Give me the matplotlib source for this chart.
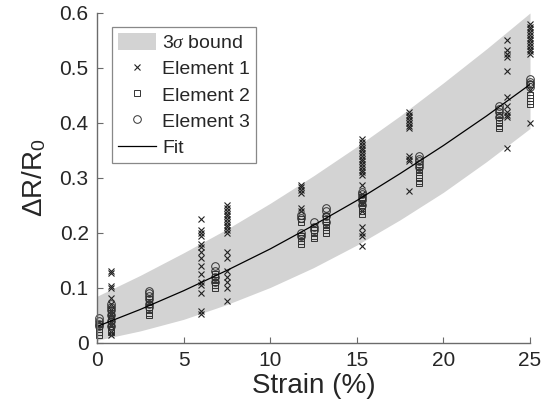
import numpy as np
import matplotlib
matplotlib.use("Agg")
import matplotlib.pyplot as plt

plt.rcParams['font.family'] = ['Liberation Sans', 'DejaVu Sans']
plt.rcParams['mathtext.fontset'] = 'custom'
plt.rcParams['mathtext.rm'] = 'Liberation Sans'
plt.rcParams['mathtext.it'] = 'Liberation Serif:italic'

# fit curve and 3 sigma band
fit_x = [0, 2.5, 5, 7.5, 10, 12.5, 15, 17.5, 20, 22.5, 25]
fit_y = [0.030, 0.061, 0.095, 0.132, 0.171, 0.214, 0.259, 0.308, 0.359, 0.413, 0.470]
band_hi = [0.085, 0.123, 0.164, 0.207, 0.254, 0.304, 0.357, 0.413, 0.473, 0.535, 0.600]
band_lo = [0.005, 0.022, 0.043, 0.070, 0.101, 0.137, 0.178, 0.224, 0.274, 0.330, 0.390]

# measured points, grouped by strain level
e1 = {
    0.8: [0.13, 0.128, 0.103, 0.1, 0.082, 0.07, 0.06, 0.05, 0.04, 0.03, 0.02, 0.015],
    6.0: [0.226, 0.205, 0.2, 0.195, 0.18, 0.175, 0.165, 0.155, 0.14, 0.125, 0.11, 0.105, 0.09, 0.058, 0.053],
    7.5: [0.25, 0.245, 0.24, 0.235, 0.23, 0.225, 0.22, 0.215, 0.21, 0.205, 0.2, 0.165, 0.155, 0.13, 0.12, 0.11, 0.1, 0.076],
    11.8: [0.288, 0.283, 0.278, 0.272, 0.245, 0.24],
    15.3: [0.37, 0.365, 0.36, 0.355, 0.35, 0.345, 0.34, 0.335, 0.33, 0.325, 0.32, 0.315, 0.31, 0.305,
           0.288, 0.27, 0.255, 0.24, 0.21, 0.2, 0.195, 0.176],
    18.0: [0.42, 0.415, 0.41, 0.405, 0.4, 0.395, 0.39, 0.34, 0.335, 0.33, 0.276],
    23.7: [0.55, 0.532, 0.525, 0.52, 0.495, 0.447, 0.43, 0.42, 0.415, 0.41, 0.355],
    25.0: [0.58, 0.575, 0.57, 0.565, 0.56, 0.555, 0.55, 0.545, 0.54, 0.535, 0.53, 0.525, 0.46, 0.4],
}
e2 = {
    0.1: [0.015, 0.02, 0.025, 0.03, 0.035],
    0.8: [0.02, 0.025, 0.03, 0.035, 0.04, 0.045, 0.05, 0.055, 0.06],
    3.0: [0.05, 0.055, 0.06, 0.065, 0.07, 0.075, 0.08],
    6.8: [0.1, 0.105, 0.11, 0.115, 0.12, 0.125],
    11.8: [0.18, 0.185, 0.19, 0.195, 0.22, 0.225],
    12.5: [0.19, 0.195, 0.2, 0.205, 0.21],
    13.2: [0.2, 0.205, 0.21, 0.215, 0.22, 0.225, 0.23],
    15.3: [0.235, 0.24, 0.245, 0.25, 0.255, 0.26, 0.265],
    18.6: [0.29, 0.295, 0.3, 0.305, 0.31, 0.315, 0.32],
    23.2: [0.39, 0.395, 0.4, 0.405, 0.41, 0.415],
    25.0: [0.435, 0.44, 0.445, 0.45, 0.47],
}
e3 = {
    0.1: [0.03, 0.035, 0.04, 0.045],
    0.8: [0.03, 0.04, 0.05, 0.06, 0.065, 0.07],
    3.0: [0.065, 0.07, 0.08, 0.085, 0.09, 0.095],
    6.8: [0.11, 0.12, 0.13, 0.14],
    11.8: [0.195, 0.2, 0.228, 0.232],
    12.5: [0.205, 0.21, 0.22],
    13.2: [0.22, 0.23, 0.24, 0.245],
    15.3: [0.25, 0.26, 0.265, 0.27, 0.275],
    18.6: [0.32, 0.325, 0.33, 0.335, 0.34],
    23.2: [0.41, 0.42, 0.425, 0.43],
    25.0: [0.465, 0.47, 0.475, 0.48],
}


def flatten(d):
    xs, ys = [], []
    for k, v in d.items():
        xs += [k] * len(v)
        ys += v
    return xs, ys


fig = plt.figure(figsize=(5.49, 4.16), dpi=100)
ax = fig.add_axes([0.1767, 0.1755, 0.7887, 0.7933])

ax.fill_between(fit_x, band_lo, band_hi, color='#d3d3d3', lw=0, label=r'3$\sigma$ bound')

x1, y1 = flatten(e1)
x2, y2 = flatten(e2)
x3, y3 = flatten(e3)
ax.plot(x1, y1, 'x', color='#222222', ms=4.5, mew=0.8, label='Element 1', clip_on=False)
ax.plot(x2, y2, 's', mfc='none', mec='#333333', ms=4.3, mew=0.7, label='Element 2', clip_on=False)
ax.plot(x3, y3, 'o', mfc='none', mec='#333333', ms=5.5, mew=0.7, label='Element 3', clip_on=False)
ax.plot(fit_x, fit_y, '-', color='black', lw=0.9, label='Fit')

ax.set_xlim(0, 25)
ax.set_ylim(0, 0.6)
ax.set_xticks([0, 5, 10, 15, 20, 25])
ax.set_yticks([0, 0.1, 0.2, 0.3, 0.4, 0.5, 0.6])
ax.set_yticklabels(['0', '0.1', '0.2', '0.3', '0.4', '0.5', '0.6'])
for s in ['top', 'right']:
    ax.spines[s].set_visible(False)
for s in ['left', 'bottom']:
    ax.spines[s].set_color('#6b6b6b')
    ax.spines[s].set_linewidth(1.0)
ax.tick_params(direction='in', length=4, width=0.8, color='#6b6b6b',
               labelsize=15, labelcolor='#262626', pad=6)

ax.set_xlabel('Strain (%)', fontsize=20, color='#262626', labelpad=2)
ax.set_ylabel(r'$\Delta$R/R$_0$', fontsize=20, color='#262626', labelpad=8)

leg = ax.legend(loc='upper left', bbox_to_anchor=(0.034, 0.958), fontsize=14,
                frameon=True, fancybox=False, edgecolor='#6b6b6b',
                handlelength=2.0, handleheight=1.0, handletextpad=0.3,
                labelspacing=0.36, borderpad=0.3, borderaxespad=0)
leg.get_frame().set_linewidth(0.9)
for t in leg.get_texts():
    t.set_color('#262626')

fig.savefig('out.png', dpi=100)
